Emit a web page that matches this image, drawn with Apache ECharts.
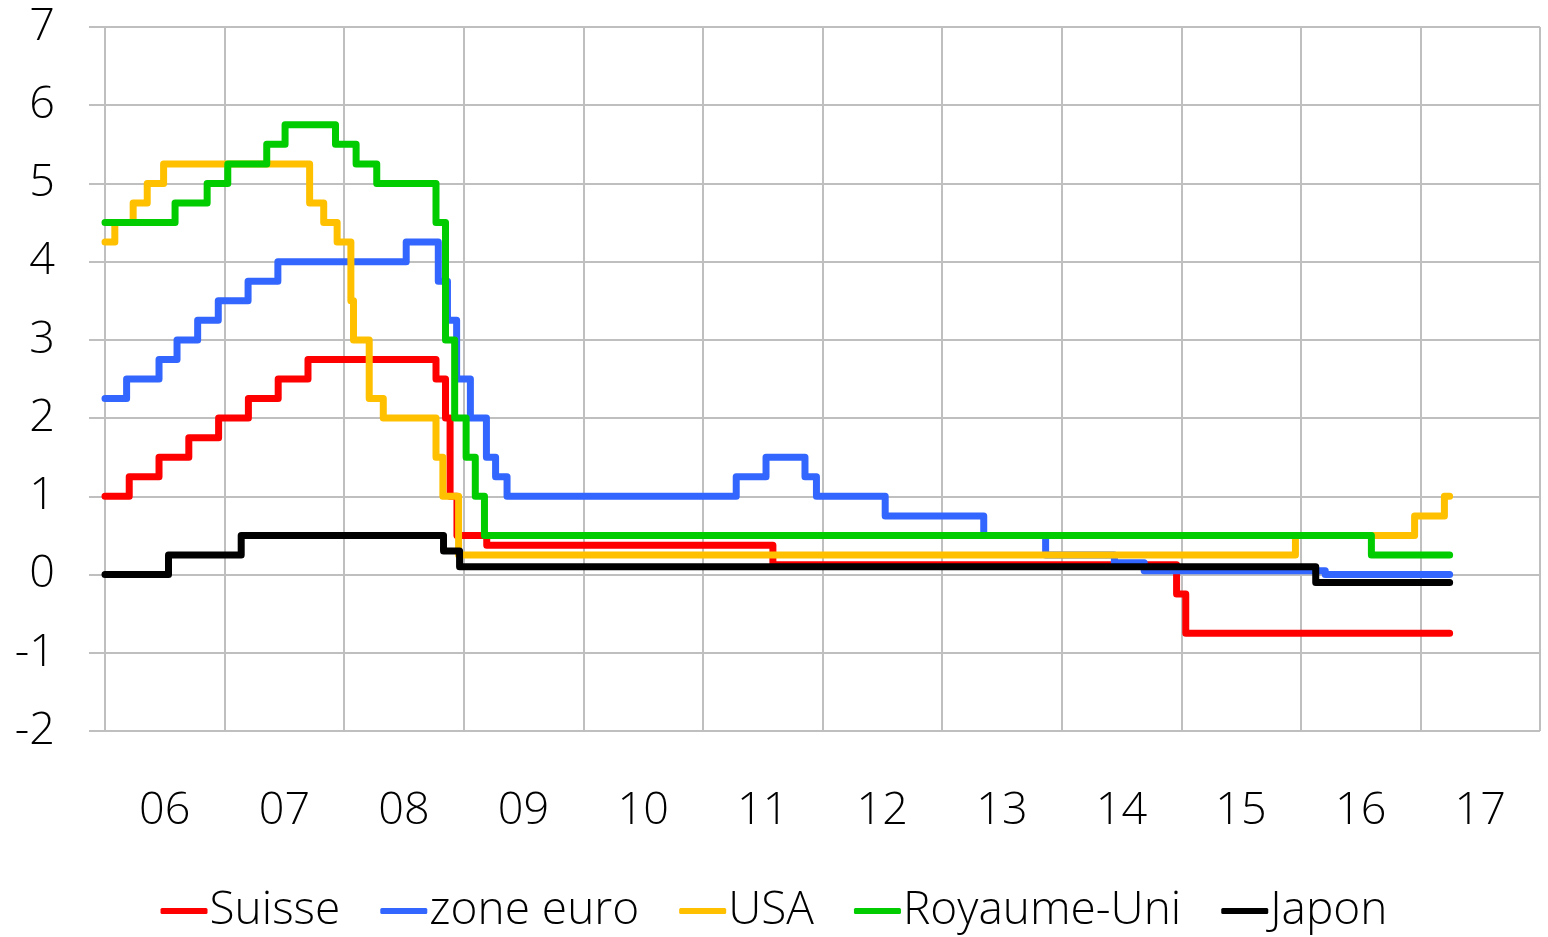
<!DOCTYPE html>
<html>
<head>
<meta charset="utf-8">
<title>Taux directeurs</title>
<script src="https://cdn.jsdelivr.net/npm/echarts@6/dist/echarts.min.js"></script>
<style>
  html, body { margin: 0; padding: 0; background: #fff; }
  #chart { width: 1548px; height: 937px; }
</style>
</head>
<body>
<div id="chart"></div>
<script>
// year labels of the category axis
const years = ["06", "07", "08", "09", "10", "11", "12", "13", "14", "15", "16", "17"];

// policy rates, [date of change, new rate]
const suisse = [
  ["2006-01-01", 1.0], ["2006-03-16", 1.25], ["2006-06-15", 1.5], ["2006-09-14", 1.75],
  ["2006-12-14", 2.0], ["2007-03-15", 2.25], ["2007-06-14", 2.5], ["2007-09-13", 2.75],
  ["2008-10-08", 2.5], ["2008-11-06", 2.0], ["2008-11-20", 1.0], ["2008-12-11", 0.5],
  ["2009-03-12", 0.375], ["2011-08-03", 0.125], ["2014-12-18", -0.25], ["2015-01-15", -0.75],
  ["2017-03-31", -0.75]
];
const zoneEuro = [
  ["2006-01-01", 2.25], ["2006-03-08", 2.5], ["2006-06-15", 2.75], ["2006-08-09", 3.0],
  ["2006-10-11", 3.25], ["2006-12-13", 3.5], ["2007-03-14", 3.75], ["2007-06-13", 4.0],
  ["2008-07-09", 4.25], ["2008-10-15", 3.75], ["2008-11-12", 3.25], ["2008-12-10", 2.5],
  ["2009-01-21", 2.0], ["2009-03-11", 1.5], ["2009-04-08", 1.25], ["2009-05-13", 1.0],
  ["2011-04-13", 1.25], ["2011-07-13", 1.5], ["2011-11-09", 1.25], ["2011-12-14", 1.0],
  ["2012-07-11", 0.75], ["2013-05-08", 0.5], ["2013-11-13", 0.25], ["2014-06-11", 0.15],
  ["2014-09-10", 0.05], ["2016-03-16", 0.0], ["2017-03-31", 0.0]
];
const usa = [
  ["2006-01-01", 4.25], ["2006-01-31", 4.5], ["2006-03-28", 4.75], ["2006-05-10", 5.0],
  ["2006-06-29", 5.25], ["2007-09-18", 4.75], ["2007-10-31", 4.5], ["2007-12-11", 4.25],
  ["2008-01-22", 3.5], ["2008-01-30", 3.0], ["2008-03-18", 2.25], ["2008-04-30", 2.0],
  ["2008-10-08", 1.5], ["2008-10-29", 1.0], ["2008-12-16", 0.25], ["2015-12-16", 0.5],
  ["2016-12-14", 0.75], ["2017-03-15", 1.0], ["2017-03-31", 1.0]
];
const royaumeUni = [
  ["2006-01-01", 4.5], ["2006-08-03", 4.75], ["2006-11-09", 5.0], ["2007-01-11", 5.25],
  ["2007-05-10", 5.5], ["2007-07-05", 5.75], ["2007-12-06", 5.5], ["2008-02-07", 5.25],
  ["2008-04-10", 5.0], ["2008-10-08", 4.5], ["2008-11-06", 3.0], ["2008-12-04", 2.0],
  ["2009-01-08", 1.5], ["2009-02-05", 1.0], ["2009-03-05", 0.5], ["2016-08-04", 0.25],
  ["2017-03-31", 0.25]
];
const japon = [
  ["2006-01-01", 0], ["2006-07-14", 0.25], ["2007-02-21", 0.5], ["2008-10-31", 0.3],
  ["2008-12-19", 0.1], ["2016-02-16", -0.1], ["2017-03-31", -0.1]
];

const font = '"Open Sans", "DejaVu Sans", sans-serif';
const gridColor = "#bfbfbf";

function rateSeries(name, data, color) {
  return {
    name: name,
    type: "line",
    xAxisIndex: 1,
    step: "end",
    symbol: "none",
    data: data,
    itemStyle: { color: color },
    lineStyle: { width: 7, color: color, cap: "round", join: "round" },
    emphasis: { disabled: true },
  };
}

const chart = echarts.init(document.getElementById("chart"));
chart.setOption({
  animation: false,
  grid: { left: 105, right: 8, top: 27, bottom: 206, containLabel: false },
  legend: {
    top: 883,
    left: "center",
    icon: "roundRect",
    itemWidth: 47,
    itemHeight: 6,
    itemGap: 40,
    textStyle: { fontSize: 46, fontWeight: 300, color: "#000", fontFamily: font, padding: [0, 0, 0, -3] },
    data: ["Suisse", "zone euro", "USA", "Royaume-Uni", "Japon"],
  },
  xAxis: [
    {
      type: "category",
      data: years,
      boundaryGap: true,
      axisLine: { show: true, lineStyle: { color: gridColor, width: 2 } },
      axisTick: { show: true, interval: 0, length: 107, lineStyle: { color: gridColor, width: 2 } },
      axisLabel: { interval: 0, margin: 58, fontSize: 45, fontWeight: 300, color: "#000", fontFamily: font },
      splitLine: { show: true, interval: 0, lineStyle: { color: gridColor, width: 2 } },
    },
    {
      type: "time",
      min: "2006-01-01",
      max: "2018-01-01",
      show: false,
    },
  ],
  yAxis: {
    type: "value",
    min: -2,
    max: 7,
    interval: 1,
    axisLine: { show: true, lineStyle: { color: gridColor, width: 2 } },
    axisTick: { show: true, length: 16, lineStyle: { color: gridColor, width: 2 } },
    axisLabel: { margin: 50, fontSize: 45, fontWeight: 300, color: "#000", fontFamily: font },
    splitLine: { show: true, lineStyle: { color: gridColor, width: 2 } },
  },
  series: [
    rateSeries("Suisse", suisse, "#ff0000"),
    rateSeries("zone euro", zoneEuro, "#3366ff"),
    rateSeries("USA", usa, "#ffc000"),
    rateSeries("Royaume-Uni", royaumeUni, "#00cc00"),
    rateSeries("Japon", japon, "#000000"),
  ],
});
</script>
</body>
</html>
